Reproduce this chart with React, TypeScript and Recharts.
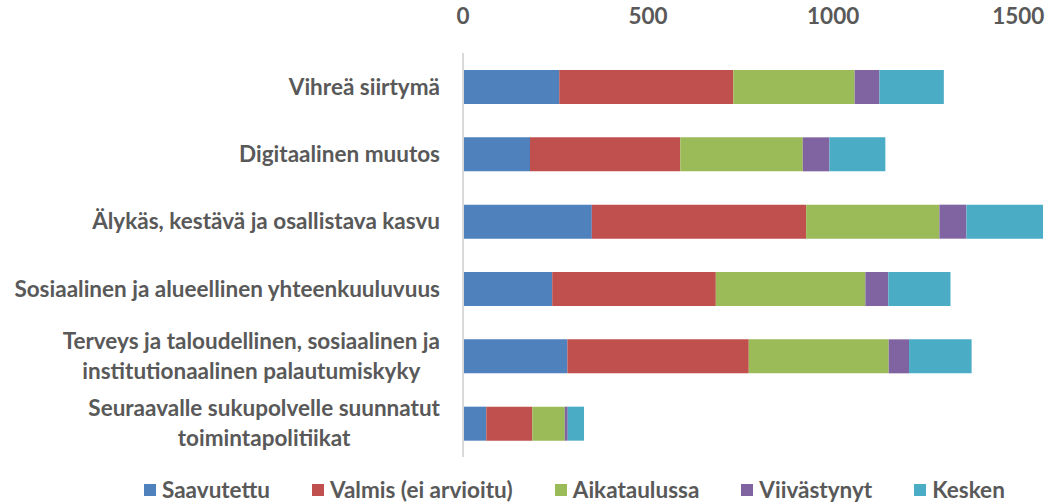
import React from 'react'
import { BarChart, Bar, XAxis, YAxis, Legend } from 'recharts'

// category labels, '\n' marks where the original wraps
const categories = [
  'Vihreä siirtymä',
  'Digitaalinen muutos',
  'Älykäs, kestävä ja osallistava kasvu',
  'Sosiaalinen ja alueellinen yhteenkuuluvuus',
  'Terveys ja taloudellinen, sosiaalinen ja\ninstitutionaalinen palautumiskyky',
  'Seuraavalle sukupolvelle suunnatut\ntoimintapolitiikat',
]

const saavutettu = [260, 181, 348, 241, 282, 63]
const valmis = [470, 406, 579, 442, 490, 124]
const aikataulussa = [328, 331, 360, 404, 378, 88]
const viivastynyt = [67, 72, 73, 62, 55, 8]
const kesken = [174, 151, 207, 168, 169, 44]

const xTicks = [0, 500, 1000, 1500]

const series = [
  { key: 'saavutettu', name: 'Saavutettu', color: '#4F81BD', values: saavutettu },
  { key: 'valmis', name: 'Valmis (ei arvioitu)', color: '#C0504D', values: valmis },
  { key: 'aikataulussa', name: 'Aikataulussa', color: '#9BBB59', values: aikataulussa },
  { key: 'viivastynyt', name: 'Viivästynyt', color: '#8064A2', values: viivastynyt },
  { key: 'kesken', name: 'Kesken', color: '#4BACC6', values: kesken },
]

const data = categories.map((name, i) => {
  const row: Record<string, string | number> = { name }
  series.forEach((s) => {
    row[s.key] = s.values[i]
  })
  return row
})

const FONT_FAMILY = "Lato, 'Noto Sans', sans-serif"
const FONT_SIZE = 22.5
const TEXT_COLOR = '#595959'
const LINE_HEIGHT = 30

let ctx: CanvasRenderingContext2D | null = null
const textWidth = (s: string) => {
  if (!ctx) ctx = document.createElement('canvas').getContext('2d')
  if (!ctx) return s.length * 11
  ctx.font = `bold ${FONT_SIZE}px ${FONT_FAMILY}`
  return ctx.measureText(s).width
}

// right-aligned block, lines centred on each other (like Excel wraps it)
const CategoryTick = (props: any) => {
  const { x, y, payload } = props
  const lines = String(payload.value).split('\n')
  const blockW = Math.max(...lines.map(textWidth))
  const cx = x - blockW / 2
  const firstY = y - ((lines.length - 1) * LINE_HEIGHT) / 2
  return (
    <g>
      {lines.map((line, i) => (
        <text
          key={i}
          x={lines.length > 1 ? cx : x}
          y={firstY + i * LINE_HEIGHT}
          dy="0.35em"
          textAnchor={lines.length > 1 ? 'middle' : 'end'}
          fill={TEXT_COLOR}
          fontFamily={FONT_FAMILY}
          fontSize={FONT_SIZE}
          fontWeight="bold"
        >
          {line}
        </text>
      ))}
    </g>
  )
}

const ValueTick = (props: any) => {
  const { x, y, payload } = props
  return (
    <text
      x={x}
      y={y}
      textAnchor="middle"
      fill={TEXT_COLOR}
      fontFamily={FONT_FAMILY}
      fontSize={FONT_SIZE}
      fontWeight="bold"
    >
      {payload.value}
    </text>
  )
}

const LegendContent = () => (
  <div
    style={{
      height: 47,
      boxSizing: 'border-box',
      paddingTop: 19,
      paddingLeft: 144,
      display: 'flex',
      alignItems: 'center',
      fontFamily: FONT_FAMILY,
      fontSize: FONT_SIZE,
      fontWeight: 'bold',
      color: TEXT_COLOR,
      lineHeight: '24px',
      whiteSpace: 'nowrap',
    }}
  >
    {series.map((s) => (
      <div key={s.key} style={{ display: 'flex', alignItems: 'center', marginRight: 42 }}>
        <span style={{ width: 12, height: 12, background: s.color, marginRight: 6, display: 'inline-block' }} />
        <span>{s.name}</span>
      </div>
    ))}
  </div>
)

export default function App() {
  return (
    <div style={{ position: 'absolute', left: 0, top: 0, background: '#fff' }}>
      <BarChart
        width={1046}
        height={504}
        data={data}
        layout="vertical"
        barSize={34}
        margin={{ top: 0, right: 0, bottom: 0, left: 0 }}
      >
        <XAxis
          type="number"
          orientation="top"
          domain={[0, 1575]}
          ticks={xTicks}
          height={53}
          axisLine={false}
          tickLine={false}
          tickSize={0}
          tickMargin={29}
          tick={<ValueTick />}
          interval={0}
        />
        <YAxis
          type="category"
          dataKey="name"
          width={463}
          axisLine={{ stroke: '#D9D9D9', strokeWidth: 2 }}
          tickLine={false}
          tickSize={0}
          tickMargin={23}
          tick={<CategoryTick />}
          interval={0}
        />
        <Legend verticalAlign="bottom" height={47} content={<LegendContent />} />
        {series.map((s) => (
          <Bar
            key={s.key}
            dataKey={s.key}
            name={s.name}
            stackId="a"
            fill={s.color}
            isAnimationActive={false}
          />
        ))}
      </BarChart>
    </div>
  )
}
